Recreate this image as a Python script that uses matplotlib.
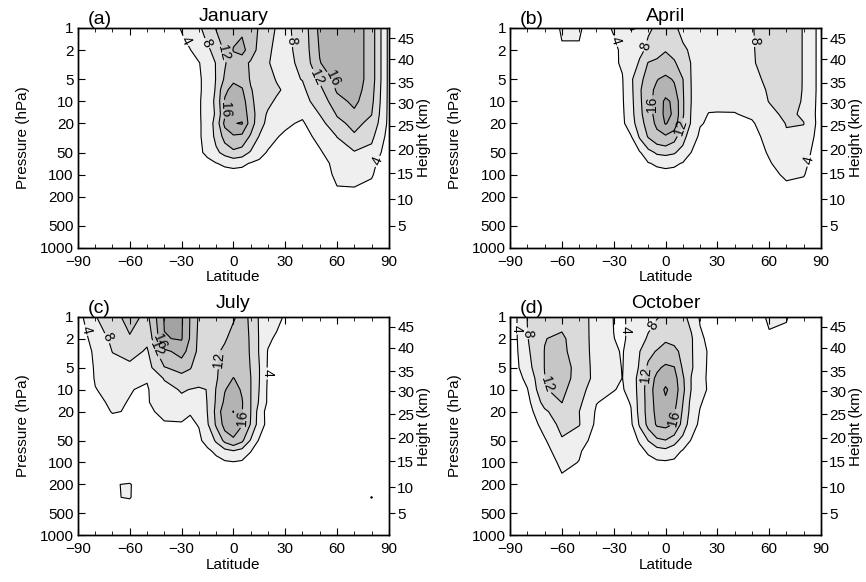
import numpy as np
import matplotlib
matplotlib.use('Agg')
import matplotlib.pyplot as plt
from matplotlib.ticker import MultipleLocator, NullLocator

plt.rcParams['font.family'] = ['Liberation Sans', 'DejaVu Sans']

# grid: latitude (deg) and pressure (hPa)
LAT = [-90, -80, -70, -60, -50, -40, -30, -25, -20, -15, -10, -5, 0,
       5, 10, 15, 20, 25, 30, 40, 50, 60, 70, 80, 90]
PRES = [1, 2, 3, 5, 7, 10, 15, 20, 30, 50, 70, 100, 150, 200, 300, 500, 1000]

# field values, one row per pressure level (top to bottom)
JAN = [
    [1, 1, 1.5, 2, 2.5, 3, 4.1, 5.5, 7.4, 9.5, 12.2, 14, 15, 15.5, 14.5, 11.5, 9.5, 7.7, 7.2, 9.5, 17, 19, 18.5, 14, 3],
    [1, 1, 1.5, 2, 2.5, 2.9, 3.4, 3.9, 5.5, 7.2, 9.6, 12.3, 16.2, 17, 14.5, 10.5, 8.3, 7.6, 7, 9.3, 16.3, 19, 18.5, 14, 3],
    [1, 1, 1.5, 2, 2.5, 2.8, 3.1, 3.4, 3.8, 5.8, 8.2, 11.6, 14.3, 14, 11.3, 9.3, 8.1, 7.6, 7, 8.8, 15.8, 19, 18.5, 14, 3],
    [1, 1, 1.5, 2, 2.5, 2.8, 3.1, 3.3, 3.6, 5, 8.2, 12.6, 15.6, 14.6, 11.6, 10, 9, 7.8, 7.2, 8.1, 12.5, 17, 18.5, 14, 3],
    [1, 1, 1.5, 2, 2.5, 2.8, 3.1, 3.3, 3.6, 5, 8.5, 15.5, 16.8, 16.4, 12.3, 10.5, 9.6, 8.5, 7.5, 7.3, 11, 16.5, 18, 13.5, 3],
    [1, 1, 1.5, 2, 2.5, 2.8, 3.1, 3.3, 3.6, 5.5, 9, 16.3, 18.3, 18, 12.8, 10.5, 8.8, 7.5, 6.6, 6.8, 9.5, 14.5, 17, 13, 3],
    [1, 1, 1.5, 2, 2.5, 2.8, 3.1, 3.3, 3.6, 5.5, 8.6, 15.5, 18.5, 18.6, 14, 10, 7.5, 6, 5, 4.5, 8.1, 12.3, 15, 12.1, 3],
    [1, 1, 1.5, 2, 2.5, 2.8, 3.0, 3.2, 3.5, 5.5, 9.5, 17, 19.8, 20.3, 14, 9.5, 7, 5.5, 4.5, 3.6, 6.5, 11, 13, 11, 3],
    [1, 1, 1.5, 2, 2.5, 2.8, 3.0, 3.2, 3.5, 5.5, 9, 13.5, 15.5, 15, 11.5, 7.8, 5.5, 4.2, 3.5, 3.0, 4.8, 8.1, 11.5, 9, 2.5],
    [1, 1, 1.5, 2, 2.5, 2.8, 3.0, 3.2, 3.5, 4.6, 7.2, 9.2, 11, 10, 7.5, 5.5, 3.6, 2.8, 2.5, 2.5, 3.6, 6, 7.6, 6.5, 2],
    [1, 1, 1.2, 1.5, 1.8, 2, 2.2, 2.4, 2.6, 3.2, 3.9, 4.6, 5, 4.7, 3.8, 3, 2.4, 2, 1.8, 2, 3, 4.8, 5.5, 4.8, 1.8],
    [0.8, 0.8, 1, 1.2, 1.4, 1.5, 1.6, 1.7, 1.8, 2, 2.2, 2.5, 2.6, 2.5, 2.2, 1.9, 1.6, 1.5, 1.4, 1.6, 2.5, 4.6, 5.2, 4.3, 1.5],
    [0.5, 0.5, 0.7, 0.9, 1, 1.1, 1.2, 1.2, 1.3, 1.4, 1.5, 1.6, 1.7, 1.6, 1.5, 1.4, 1.2, 1.1, 1, 1.2, 2, 3.9, 3.95, 3.2, 1.2],
    [0.4, 0.4, 0.5, 0.7, 0.8, 0.9, 1, 1, 1.1, 1.1, 1.2, 1.2, 1.3, 1.2, 1.2, 1.1, 1, 1, 0.9, 1, 1.5, 2.6, 2.8, 2.3, 0.9],
    [0.3, 0.3, 0.4, 0.5, 0.6, 0.7, 0.8, 0.8, 0.9, 0.9, 1, 1, 1, 1, 1, 0.9, 0.9, 0.8, 0.8, 0.8, 1.1, 1.6, 1.7, 1.4, 0.6],
    [0.2, 0.2, 0.3, 0.3, 0.4, 0.4, 0.5, 0.5, 0.5, 0.5, 0.6, 0.6, 0.6, 0.6, 0.6, 0.5, 0.5, 0.5, 0.5, 0.5, 0.6, 0.8, 0.9, 0.7, 0.3],
    [0.1, 0.1, 0.1, 0.1, 0.1, 0.1, 0.1, 0.1, 0.1, 0.1, 0.1, 0.1, 0.1, 0.1, 0.1, 0.1, 0.1, 0.1, 0.1, 0.1, 0.1, 0.1, 0.1, 0.1, 0.1],
]

APR = [
    [1, 1.5, 2.8, 4.2, 4.2, 3.0, 4.2, 6.5, 8.2, 7.9, 7.6, 8.4, 9.5, 8.5, 7.2, 6.8, 6.5, 6.2, 6, 6.3, 7.8, 9.5, 10, 7.8, 2.5],
    [1, 1.5, 2.5, 3.8, 3.8, 2.8, 3.4, 4.5, 5.6, 7, 8.9, 10.8, 11.8, 10.8, 8.6, 7.5, 6.5, 6.2, 6, 6.3, 7.7, 9.5, 10, 7.8, 2.5],
    [1, 1.4, 2.2, 3, 3.2, 2.8, 3.6, 4.3, 5.0, 8.6, 12.2, 12.7, 13.6, 12.5, 10, 7.8, 6.6, 6.2, 6, 6.3, 7.6, 9.5, 10, 7.8, 2.5],
    [0.8, 1.2, 1.8, 2.3, 2.6, 2.8, 3.3, 3.8, 7.3, 11, 13.5, 15.8, 17, 15.6, 12.1, 7.8, 6.4, 5.8, 5.5, 5.8, 7, 8.8, 10, 7.8, 2.5],
    [0.8, 1.1, 1.6, 2, 2.3, 2.6, 3.2, 3.7, 7, 11.5, 14.5, 17, 18.5, 17, 12.3, 7.9, 6.2, 5.5, 5.2, 5.5, 6.8, 8.3, 9.8, 7.8, 2.5],
    [0.8, 1, 1.5, 1.9, 2.2, 2.5, 3, 3.6, 6.8, 11.3, 14.6, 17.5, 20.8, 19.2, 12.5, 7.9, 5.5, 4.6, 4.4, 4.5, 6.2, 8.1, 9.5, 7.7, 2.4],
    [0.8, 1, 1.4, 1.8, 2.1, 2.4, 2.9, 3.4, 6.5, 11, 14.3, 17.5, 21, 19.5, 12.5, 7.6, 4.8, 3.9, 3.9, 3.9, 4.4, 7, 8.8, 7.5, 2.3],
    [0.8, 1, 1.3, 1.7, 2, 2.3, 2.8, 3.3, 6, 10.5, 13.5, 17, 20.3, 18.5, 11.7, 7.5, 4.2, 3.7, 3.5, 3.4, 3.7, 5.5, 8.2, 8.1, 2.2],
    [0.8, 1, 1.3, 1.6, 1.9, 2.2, 2.6, 3.0, 3.8, 8.5, 12.4, 14.5, 15.5, 13.5, 9.5, 5.8, 3.4, 3.2, 3.1, 3, 3.3, 4.7, 7.5, 7, 2],
    [0.8, 1, 1.2, 1.5, 1.8, 2, 2.4, 2.7, 3.1, 3.6, 6.5, 8.6, 9, 8.4, 6.5, 3.9, 3, 2.7, 2.6, 2.6, 3, 4.2, 6, 5.5, 1.8],
    [0.8, 0.9, 1.1, 1.3, 1.5, 1.7, 2, 2.2, 2.5, 3, 3.8, 4.5, 4.9, 4.6, 3.8, 3, 2.5, 2.3, 2.2, 2.2, 2.6, 3.8, 5.2, 4.8, 1.6],
    [0.7, 0.8, 1, 1.1, 1.3, 1.4, 1.6, 1.7, 1.9, 2.1, 2.4, 2.7, 2.8, 2.7, 2.4, 2.1, 1.9, 1.7, 1.6, 1.6, 2, 3, 4.6, 4.2, 1.4],
    [0.5, 0.5, 0.7, 0.8, 0.9, 1, 1.1, 1.2, 1.3, 1.4, 1.5, 1.6, 1.7, 1.6, 1.5, 1.4, 1.3, 1.2, 1.1, 1, 1.3, 2, 3.2, 2.8, 1],
    [0.4, 0.4, 0.5, 0.6, 0.7, 0.8, 0.9, 0.9, 1, 1, 1.1, 1.1, 1.2, 1.1, 1.1, 1, 1, 0.9, 0.9, 0.8, 1, 1.4, 2, 1.8, 0.8],
    [0.3, 0.3, 0.4, 0.5, 0.6, 0.6, 0.7, 0.7, 0.8, 0.8, 0.9, 0.9, 1, 0.9, 0.9, 0.8, 0.8, 0.7, 0.7, 0.7, 0.8, 1.1, 1.4, 1.3, 0.6],
    [0.2, 0.2, 0.3, 0.3, 0.4, 0.4, 0.5, 0.5, 0.5, 0.5, 0.6, 0.6, 0.6, 0.6, 0.6, 0.5, 0.5, 0.5, 0.5, 0.5, 0.5, 0.7, 0.8, 0.7, 0.3],
    [0.1, 0.1, 0.1, 0.1, 0.1, 0.1, 0.1, 0.1, 0.1, 0.1, 0.1, 0.1, 0.1, 0.1, 0.1, 0.1, 0.1, 0.1, 0.1, 0.1, 0.1, 0.1, 0.1, 0.1, 0.1],
]

JUL = [
    [2.4, 7.8, 10.5, 13.5, 11, 20.3, 20.5, 15.8, 11.5, 10.5, 10.5, 11, 11.6, 13, 11.5, 7.5, 6, 4.8, 3.7, 2.5, 2, 1.7, 1.5, 1.3, 1.2],
    [1.8, 5.5, 8.8, 11.5, 8.8, 19.8, 20.3, 15.6, 11, 10.3, 10.5, 11.5, 13.5, 14, 11.5, 7.7, 4.6, 3.5, 3, 2.3, 2, 1.7, 1.5, 1.3, 1.2],
    [1.6, 4.6, 8.1, 9.5, 7.5, 15, 17.5, 14.5, 11, 10, 11.2, 13, 14.5, 14.5, 11.5, 7.7, 3.8, 3.1, 2.7, 2.2, 1.9, 1.7, 1.5, 1.3, 1.2],
    [1.5, 4.3, 6.5, 6.8, 6.5, 11.8, 13.2, 12.2, 10.5, 9.5, 11.5, 13.5, 14.8, 14.8, 11.8, 8.1, 3.6, 2.9, 2.5, 2.1, 1.8, 1.6, 1.4, 1.3, 1.2],
    [1.4, 4.2, 5.5, 5, 4.2, 8.3, 10.8, 10.5, 9.6, 8.7, 11.5, 14.5, 16.1, 15, 12.1, 8.1, 3.6, 2.8, 2.4, 2, 1.8, 1.6, 1.4, 1.3, 1.2],
    [1.3, 3.9, 4.8, 4.1, 3.7, 6.5, 8.4, 7.9, 7.5, 8.1, 12.2, 15.8, 17.3, 15.6, 12.1, 7.9, 3.4, 2.7, 2.3, 2, 1.8, 1.6, 1.4, 1.3, 1.2],
    [1.2, 3.4, 4.4, 3.9, 3.7, 5.8, 6.8, 6.5, 6.5, 8.1, 12.5, 16.8, 18.5, 16.3, 12.1, 7.5, 3.4, 2.6, 2.2, 1.9, 1.7, 1.5, 1.4, 1.3, 1.2],
    [1.2, 3.2, 4.1, 3.9, 3.3, 4.9, 4.7, 4.1, 4.6, 8.1, 13, 18.8, 20.1, 16.2, 12.1, 6.2, 2.5, 2.3, 2.1, 1.9, 1.7, 1.5, 1.4, 1.3, 1.2],
    [1.1, 2.5, 3.3, 3.4, 3.0, 3.6, 3.8, 3.7, 4.1, 7.6, 12.5, 17.5, 18.5, 16.2, 11.8, 6, 2.8, 2.3, 2, 1.8, 1.6, 1.5, 1.4, 1.3, 1.2],
    [1, 1.8, 2.4, 2.6, 2.4, 2.6, 2.8, 3, 3.5, 5, 8.6, 13, 15.2, 12.8, 7.6, 3.5, 2.3, 2, 1.8, 1.6, 1.5, 1.4, 1.3, 1.2, 1.1],
    [0.9, 1.5, 2, 2.2, 2, 2.1, 2.3, 2.5, 2.8, 3.4, 4.6, 6.5, 7.6, 6.3, 4.1, 2.5, 1.8, 1.6, 1.5, 1.4, 1.3, 1.2, 1.2, 1.1, 1],
    [0.8, 1.2, 1.6, 1.8, 1.6, 1.6, 1.8, 1.9, 2.1, 2.4, 2.9, 3.4, 3.7, 3.4, 2.6, 2, 1.5, 1.4, 1.3, 1.2, 1.1, 1.1, 1.1, 1.1, 1],
    [0.6, 1, 1.4, 2.5, 1.4, 1.3, 1.4, 1.5, 1.6, 1.8, 2, 2.3, 2.5, 2.3, 2, 1.6, 1.3, 1.2, 1.1, 1, 1, 1, 1.1, 1.3, 0.9],
    [0.5, 0.9, 3.8, 4.25, 1.5, 1.2, 1.2, 1.3, 1.4, 1.5, 1.6, 1.8, 1.9, 1.8, 1.6, 1.4, 1.2, 1.1, 1, 1, 1, 1, 1.2, 1.5, 0.8],
    [0.4, 0.8, 3.8, 4.2, 1.5, 1, 1, 1, 1.1, 1.2, 1.3, 1.4, 1.5, 1.4, 1.3, 1.2, 1.1, 1, 1, 0.9, 0.9, 0.9, 1.2, 4.15, 1],
    [0.3, 0.6, 1, 1.5, 1, 0.8, 0.8, 0.8, 0.8, 0.9, 0.9, 1, 1, 1, 0.9, 0.9, 0.8, 0.8, 0.8, 0.7, 0.7, 0.7, 0.8, 1, 0.7],
    [0.1, 0.1, 0.1, 0.1, 0.1, 0.1, 0.1, 0.1, 0.1, 0.1, 0.1, 0.1, 0.1, 0.1, 0.1, 0.1, 0.1, 0.1, 0.1, 0.1, 0.1, 0.1, 0.1, 0.1, 0.1],
]

OCT = [
    [1.3, 8.1, 10.5, 11, 9.5, 6.8, 3.9, 3.5, 4.8, 5.8, 7, 7.8, 8.4, 8.8, 8.6, 7.2, 3.5, 2.5, 2.2, 2.5, 3, 4.3, 4.1, 3, 2.5],
    [1.3, 7.8, 11.9, 12.6, 10, 6.5, 4.05, 3.5, 4.8, 6.5, 8.5, 10, 11.5, 11, 9.8, 8.4, 5, 2.9, 2.3, 2.3, 2.7, 3.7, 3.6, 2.8, 2.5],
    [1.3, 7.3, 12.1, 12.8, 10.2, 6.5, 4.4, 3.8, 5.3, 7.9, 10.8, 12.3, 13.5, 13, 11, 8.3, 6, 3.5, 2.4, 2.2, 2.5, 3.2, 3.2, 2.7, 2.5],
    [1.3, 6.5, 12.1, 13.8, 10.5, 6.6, 4.8, 3.9, 5.2, 8.5, 13, 15.2, 16.8, 16.2, 11.5, 8.4, 6, 3.3, 2.3, 2.1, 2.2, 2.5, 2.5, 2.4, 2.3],
    [1.2, 5, 11.9, 13.8, 10.3, 6.8, 5.2, 3.95, 5.6, 9.5, 13.5, 17, 18.8, 17.7, 12.6, 7.8, 5.5, 3.3, 2.2, 2, 2, 2.1, 2.1, 2.1, 2],
    [1.2, 3.8, 11.7, 13, 9.5, 5.8, 4.1, 3.7, 5.3, 9.5, 13.8, 18, 20.5, 18.5, 13, 7.8, 5.6, 3.5, 2.2, 1.9, 1.9, 1.9, 1.9, 1.9, 1.8],
    [1.1, 2.8, 9.5, 12.05, 8.8, 4.1, 3.2, 3.1, 4.2, 9.5, 13.5, 17.6, 19.3, 17.5, 12.1, 6.8, 4.3, 3, 2.1, 1.8, 1.8, 1.8, 1.8, 1.8, 1.7],
    [1, 2.4, 7.2, 10.8, 8.05, 3.6, 2.8, 2.8, 3.8, 9.4, 13.5, 17.2, 18, 16.5, 11.5, 6.5, 3.8, 2.7, 2.1, 1.8, 1.7, 1.7, 1.7, 1.7, 1.6],
    [1, 2, 5.2, 9.3, 8.2, 3.2, 2.5, 2.5, 3.3, 8.5, 13.2, 16.5, 16.9, 15.8, 10.5, 5.6, 3.3, 2.5, 2, 1.7, 1.6, 1.6, 1.6, 1.6, 1.5],
    [0.9, 1.7, 3.6, 7.5, 5.5, 2.6, 2.1, 2.1, 2.8, 4.3, 8.1, 11, 11.8, 9.5, 6.5, 3.7, 2.4, 2, 1.8, 1.6, 1.5, 1.5, 1.5, 1.5, 1.4],
    [0.8, 1.4, 2.8, 5.8, 4.3, 2.2, 1.8, 1.8, 2.2, 3.2, 4.4, 6, 6.6, 5.5, 3.6, 2.4, 1.8, 1.6, 1.5, 1.4, 1.3, 1.3, 1.3, 1.3, 1.2],
    [0.7, 1.1, 2, 4.8, 3.9, 1.8, 1.5, 1.5, 1.8, 2.4, 3, 3.3, 3.4, 3.2, 2.6, 1.9, 1.5, 1.4, 1.3, 1.2, 1.2, 1.2, 1.2, 1.2, 1.1],
    [0.5, 0.8, 1.5, 3.8, 2.8, 1.4, 1.2, 1.2, 1.3, 1.6, 1.9, 2.1, 2.2, 2, 1.7, 1.4, 1.2, 1.1, 1.1, 1, 1, 1, 1, 1, 0.9],
    [0.4, 0.6, 1.1, 2.6, 2, 1.1, 1, 1, 1.1, 1.3, 1.5, 1.6, 1.7, 1.6, 1.4, 1.2, 1, 1, 0.9, 0.9, 0.9, 0.9, 0.9, 0.9, 0.8],
    [0.3, 0.5, 0.8, 1.6, 1.3, 0.9, 0.8, 0.8, 0.9, 1, 1.1, 1.2, 1.3, 1.2, 1.1, 1, 0.9, 0.8, 0.8, 0.8, 0.8, 0.8, 0.8, 0.8, 0.7],
    [0.2, 0.3, 0.5, 0.9, 0.8, 0.6, 0.5, 0.5, 0.6, 0.7, 0.7, 0.8, 0.8, 0.8, 0.7, 0.7, 0.6, 0.5, 0.5, 0.5, 0.5, 0.5, 0.5, 0.5, 0.4],
    [0.1, 0.1, 0.1, 0.1, 0.1, 0.1, 0.1, 0.1, 0.1, 0.1, 0.1, 0.1, 0.1, 0.1, 0.1, 0.1, 0.1, 0.1, 0.1, 0.1, 0.1, 0.1, 0.1, 0.1, 0.1],
]

LETTERS = ['(a)', '(b)', '(c)', '(d)']
MONTHS = ['January', 'April', 'July', 'October']
LEVELS = [4, 8, 12, 16, 20]
P_TICKS = [1, 2, 5, 10, 20, 50, 100, 200, 500, 1000]
HEIGHT_KM = [5, 10, 15, 20, 25, 30, 35, 40, 45]
HEIGHT_P = [496, 218, 96, 46, 21.7, 10.6, 5.57, 2.67, 1.38]

# where the contour labels sit (lat, hPa)
label_spots = [
    [(-28, 1.5), (-15.5, 1.6), (-7, 2.2), (-5.5, 13), (35, 1.5), (47, 4.8), (57, 5), (82, 63)],
    [(-29, 1.5), (-9.7, 1.8), (-6.8, 11), (9.5, 23), (51.3, 1.5), (81.3, 63)],
    [(-84.5, 1.5), (-72.6, 1.9), (-41, 2.1), (-45, 2.8), (-6.5, 3.9), (18.7, 6), (5, 25)],
    [(-86, 1.45), (-82, 1.7), (-67.7, 8.2), (-22.8, 1.5), (-5.5, 1.4), (-12, 6.3), (5, 24.7)],
]

fills = ['#efefef', '#dadada', '#c6c6c6', '#b3b3b3', '#a3a3a3']
rects = [[0.090, 0.574, 0.359, 0.378], [0.589, 0.574, 0.359, 0.378],
         [0.090, 0.080, 0.359, 0.376], [0.589, 0.080, 0.359, 0.376]]
title_pad = [5, 5, 6.5, 6.5]

fig = plt.figure(figsize=(8.66, 5.82), dpi=100)

for i, field in enumerate([JAN, APR, JUL, OCT]):
    ax = fig.add_axes(rects[i])
    ax.set_yscale('log')
    z = np.array(field)
    ax.contourf(LAT, PRES, z, levels=[4, 8, 12, 16, 20, 40], colors=fills)
    cs = ax.contour(LAT, PRES, z, levels=LEVELS, colors='k', linewidths=0.8)
    ax.set_xlim(-90, 90)
    ax.set_ylim(1000, 1)
    ax.clabel(cs, fmt='%d', fontsize=10, inline=True, inline_spacing=2,
              manual=label_spots[i])

    ax.set_xticks(range(-90, 91, 30))
    ax.xaxis.set_minor_locator(MultipleLocator(10))
    ax.set_yticks(P_TICKS)
    ax.set_yticklabels([str(p) for p in P_TICKS])
    ax.yaxis.set_minor_locator(NullLocator())
    ax.tick_params(which='both', direction='in', top=True, right=True,
                   labelsize=11)
    ax.tick_params(which='major', length=5)
    ax.tick_params(which='minor', length=3)
    ax.tick_params(axis='x', pad=5)
    ax.tick_params(axis='y', pad=3)
    ax.set_xlabel('Latitude', fontsize=11, labelpad=1)
    ax.set_ylabel('Pressure (hPa)', fontsize=11, labelpad=7)
    ax.set_title(MONTHS[i], fontsize=14, pad=title_pad[i])
    ax.text(0.03, 1.0, LETTERS[i], transform=ax.transAxes, fontsize=14,
            va='bottom', ha='left')

    ax2 = ax.twinx()
    ax2.set_yscale('log')
    ax2.set_ylim(1000, 1)
    ax2.set_yticks(HEIGHT_P)
    ax2.set_yticklabels([str(h) for h in HEIGHT_KM])
    ax2.yaxis.set_minor_locator(NullLocator())
    ax2.tick_params(axis='y', direction='out', length=4, labelsize=11, pad=2)
    ax2.set_ylabel('Height (km)', fontsize=11, labelpad=2)

    for a in (ax, ax2):
        for s in a.spines.values():
            s.set_linewidth(1.0)

fig.savefig('out.png', dpi=100)
